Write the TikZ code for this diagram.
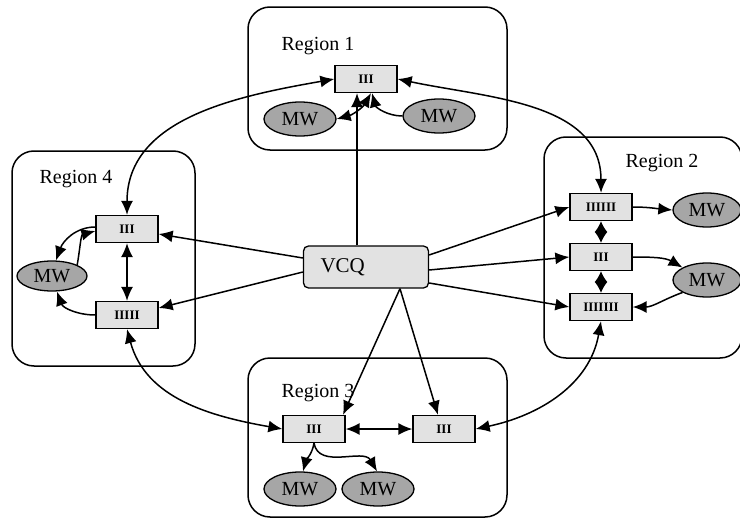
\documentclass[tikz,border=0pt]{standalone}
\usepackage{fontspec}
\setmainfont{Liberation Serif}
\usetikzlibrary{arrows.meta,shapes.geometric}
\definecolor{boxgray}{RGB}{226,226,226}
\definecolor{mwgray}{RGB}{166,166,166}
\begin{document}
\begin{tikzpicture}[x=1pt,y=1pt,
  region/.style={draw, line width=1.5pt, rounded corners=22pt, inner sep=0pt},
  rlabel/.style={font=\fontsize{20}{22}\selectfont, anchor=base, inner sep=0pt},
  sbox/.style={draw, line width=1.3pt, fill=boxgray, minimum width=62pt, minimum height=27pt, inner sep=0pt, font=\fontsize{13}{13}\selectfont\bfseries},
  mw/.style={draw, ellipse, line width=1.3pt, fill=mwgray, minimum width=72pt, minimum height=34pt, inner sep=0pt, font=\fontsize{20}{20}\selectfont},
  vcq/.style={draw, line width=1.3pt, fill=boxgray, rounded corners=5pt, minimum height=42pt, text width=91pt, align=left, inner xsep=17pt, font=\fontsize{21}{21}\selectfont},
  conn/.style={line width=1.5pt, -{Latex[length=14pt,width=12pt]}},
  dconn/.style={line width=1.5pt, {Latex[length=14pt,width=12pt]}-{Latex[length=14pt,width=12pt]}},
  dia/.style={line width=1.5pt, {Latex[length=11pt,width=13pt]}-{Latex[length=11pt,width=13pt]}},
]
\useasboundingbox (0,0) rectangle (740,-522);

% regions
\node[region, minimum width=259pt, minimum height=143pt] (R1) at (377.5,-78.5) {};
\node[region, minimum width=198pt, minimum height=221pt] (R2) at (643,-247.5) {};
\node[region, minimum width=259pt, minimum height=159pt] (R3) at (377.5,-437.5) {};
\node[region, minimum width=183pt, minimum height=215pt] (R4) at (103.5,-258.5) {};

\node[rlabel] (L1) at (318,-50) {Region 1};
\node[rlabel] (L2) at (662,-167) {Region 2};
\node[rlabel] (L3) at (318,-397) {Region 3};
\node[rlabel] (L4) at (76,-183) {Region 4};

% region 1
\node[sbox] (A1) at (366,-79) {III};
\node[mw] (M1a) at (300,-119) {MW};
\node[mw] (M1b) at (439,-116) {MW};

% region 4
\node[sbox] (A4) at (127,-229) {III};
\node[sbox] (B4) at (127,-315) {IIIII};
\node[mw, minimum width=70pt, minimum height=30pt] (M4) at (52,-276) {MW};

% region 2
\node[sbox] (A2) at (601,-207) {IIIIII};
\node[sbox] (B2) at (601,-257) {III};
\node[sbox] (C2) at (601,-307) {IIIIIII};
\node[mw, minimum width=68pt] (M2a) at (707,-210) {MW};
\node[mw, minimum width=68pt] (M2b) at (707,-280) {MW};

% region 3
\node[sbox] (A3) at (314,-429) {III};
\node[sbox] (B3) at (444,-429) {III};
\node[mw] (M3a) at (300,-489) {MW};
\node[mw] (M3b) at (378,-489) {MW};

% VCQ
\node[vcq] (V) at (366,-267) {VCQ};

% long arcs
\draw[dconn] (A4.north) to[out=90,in=190] (A1.west);
\draw[dconn] (A1.east) to[out=-12,in=90] (A2.north);
\draw[dconn] (B4.south) to[out=-75,in=170] (A3.west);
\draw[dconn] (C2.south) to[out=-100,in=12] (B3.east);

% VCQ connectors
\draw[conn] ([xshift=-9pt]V.north) -- ([xshift=-9pt]A1.south);
\draw[conn] ([yshift=9pt]V.west) -- ([yshift=-5pt]A4.east);
\draw[conn] ([yshift=-5pt]V.west) -- ([yshift=7pt]B4.east);
\draw[conn] ([yshift=12pt]V.east) -- (A2.west);
\draw[conn] ([yshift=-3pt]V.east) -- (B2.west);
\draw[conn] ([yshift=-16pt]V.east) -- (C2.west);
\draw[conn] ([xshift=34pt]V.south) -- ([xshift=29pt]A3.north);
\draw[conn] ([xshift=34pt]V.south) -- ([xshift=-6pt]B3.north);

% region 1 internal
\draw[dconn] (M1a.east) to[out=15,in=-120] ([xshift=5pt]A1.south);
\draw[conn] (M1b.west) to[out=180,in=-75] ([xshift=6pt]A1.south);

% region 4 internal
\draw[dconn] (A4.south) -- (B4.north);
\draw[conn] ([yshift=2pt]A4.west) to[out=180,in=70] ([xshift=4pt]M4.north);
\draw[conn] (M4.north east) to[out=80,in=195] ([yshift=-2pt]A4.west);
\draw[conn] (B4.west) to[out=180,in=-70] ([xshift=5pt]M4.south);

% region 2 internal
\draw[dia] (A2.south) -- (B2.north);
\draw[dia] (B2.south) -- (C2.north);
\draw[conn] (A2.east) to[out=0,in=175] (M2a.west);
\draw[conn] (B2.east) to[out=0,in=150] (M2b.north west);
\draw[conn] (M2b.south west) to[out=200,in=0] (C2.east);

% region 3 internal
\draw[dconn] (A3.east) -- (B3.west);
\draw[conn] (A3.south) to[out=-100,in=75] ([xshift=3pt]M3a.north);
\draw[conn] (A3.south) to[out=-80,in=120] ([xshift=-1pt]M3b.north);
\end{tikzpicture}
\end{document}
